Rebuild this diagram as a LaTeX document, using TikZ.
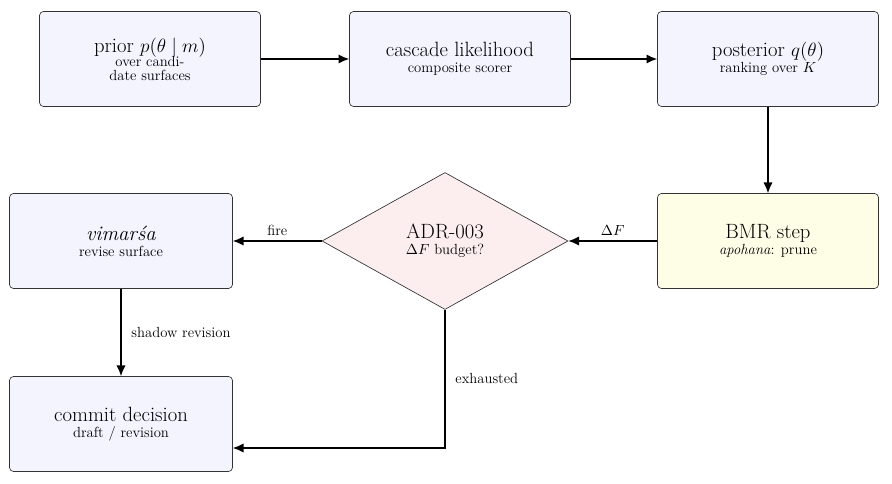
\documentclass[tikz,border=0pt]{standalone}
\usetikzlibrary{shapes.geometric,arrows.meta}
\definecolor{bfill}{HTML}{F3F4FD}
\definecolor{yfill}{HTML}{FEFEE6}
\definecolor{pfill}{HTML}{FCEEEE}
\tikzset{
 box/.style={draw=black!80,rounded corners=3pt,minimum width=221*0.75pt,minimum height=95*0.75pt,align=center,fill=bfill,line width=0.5pt},
 arr/.style={-{Latex[length=8pt,width=7pt]},line width=1pt},
 lab/.style={font=\fontsize{11}{13}\selectfont}
}
\newcommand{\bigt}[1]{{\fontsize{15.5}{19}\selectfont #1}}
\newcommand{\smt}[1]{{\fontsize{11}{15}\selectfont #1}}
\begin{document}
\begin{tikzpicture}[x=0.75pt,y=-0.75pt]
\useasboundingbox (0,0) rectangle (892,484);
\node[box] (prior) at (150,59) {\bigt{prior $p(\theta\mid m)$}\\[-1pt]\smt{over candi-}\\[-2pt]\smt{date surfaces}};
\node[box] (casc) at (460,59) {\bigt{cascade likelihood}\\\smt{composite scorer}};
\node[box] (post) at (768,59) {\bigt{posterior $q(\theta)$}\\\smt{ranking over $K$}};
\node[box,fill=yfill] (bmr) at (768,241) {\bigt{BMR step}\\\smt{\textit{apohana}: prune}};
\node[draw=black!80,diamond,aspect=1.8,fill=pfill,minimum width=246*0.75pt,minimum height=137*0.75pt,inner sep=0pt,align=center,line width=0.5pt] (adr) at (445,241) {\bigt{ADR-003}\\\smt{$\Delta F$ budget?}};
\node[box,minimum width=223*0.75pt] (vim) at (121,241) {\bigt{\textit{vimar\'{s}a}}\\\smt{revise surface}};
\node[box,minimum width=223*0.75pt] (com) at (121,424) {\bigt{commit decision}\\\smt{draft / revision}};
\draw[arr] (prior) -- (casc);
\draw[arr] (casc) -- (post);
\draw[arr] (post) -- (bmr);
\draw[arr] (bmr) -- node[lab,above]{$\Delta F$} (adr);
\draw[arr] (adr) -- node[lab,above]{fire} (vim);
\draw[arr] (vim) -- node[lab,right,xshift=4pt]{shadow revision} (com);
\coordinate (corner) at (445,448);
\draw[arr] (adr.south) -- node[lab,right,pos=0.5,xshift=4pt]{exhausted} (corner) -- (com.east |- corner);
\end{tikzpicture}
\end{document}
